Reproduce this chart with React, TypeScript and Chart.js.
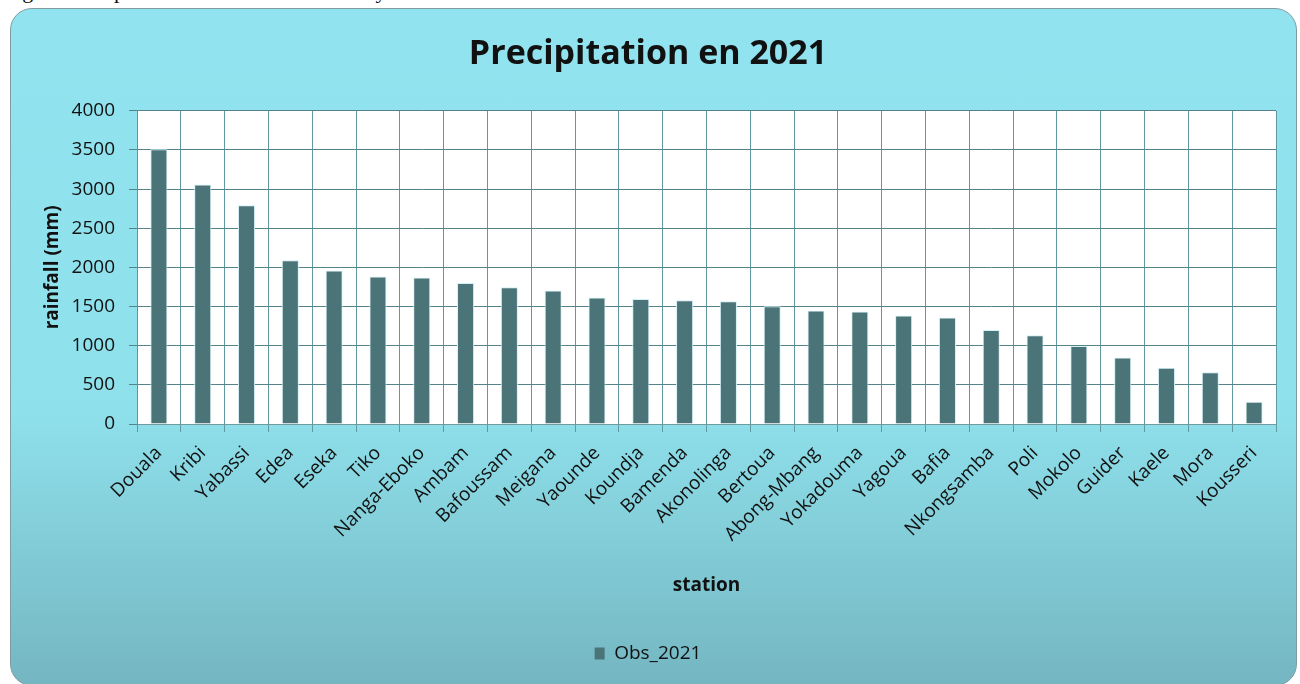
import React, { useEffect, useRef } from "react";
import { Chart, registerables } from "chart.js";

Chart.register(...registerables);

const chartTitle = "Precipitation en 2021";
const seriesLabel = "Obs_2021";
const xAxisTitle = "station";
const yAxisTitle = "rainfall (mm)";
const captionText = "Figure 3: Representation of total rainfall by station in 2021";

const stations = [
  "Douala", "Kribi", "Yabassi", "Edea", "Eseka", "Tiko", "Nanga-Eboko", "Ambam",
  "Bafoussam", "Meigana", "Yaounde", "Koundja", "Bamenda", "Akonolinga", "Bertoua",
  "Abong-Mbang", "Yokadouma", "Yagoua", "Bafia", "Nkongsamba", "Poli", "Mokolo",
  "Guider", "Kaele", "Mora", "Kousseri",
];
const obs2021 = [
  3510, 3060, 2795, 2090, 1960, 1885, 1870, 1800, 1745, 1705, 1615, 1598, 1582,
  1568, 1505, 1450, 1437, 1386, 1360, 1200, 1135, 995, 850, 718, 660, 285,
];
const yMin = 0;
const yMax = 4000;
const yStep = 500;

const BAR_COLOR = "#4b7479";
const FONT = "'Open Sans', 'Noto Sans', sans-serif";

const plotBackground = {
  id: "plotBackground",
  beforeDraw(chart: any) {
    const { ctx, chartArea } = chart;
    if (!chartArea) return;
    ctx.save();
    ctx.fillStyle = "#ffffff";
    ctx.fillRect(chartArea.left, chartArea.top, chartArea.right - chartArea.left, chartArea.bottom - chartArea.top);
    ctx.restore();
  },
};

export default function App() {
  const canvasRef = useRef<HTMLCanvasElement | null>(null);

  useEffect(() => {
    if (!canvasRef.current) return;
    const chart = new Chart(canvasRef.current, {
      type: "bar",
      data: {
        labels: stations,
        datasets: [
          {
            label: seriesLabel,
            data: obs2021,
            backgroundColor: BAR_COLOR,
            borderColor: "#d4f1f5",
            borderWidth: 1,
            barPercentage: 0.39,
            categoryPercentage: 1,
          },
        ],
      },
      options: {
        responsive: false,
        animation: false,
        layout: { padding: { left: 20, right: 24, top: 0, bottom: 11 } },
        plugins: {
          title: {
            display: true,
            text: chartTitle,
            color: "#111111",
            font: { family: FONT, size: 34, weight: "bold" },
            padding: { top: 34, bottom: 36 },
          },
          legend: {
            display: true,
            position: "bottom",
            labels: {
              color: "#111111",
              font: { family: FONT, size: 19 },
              boxWidth: 10,
              boxHeight: 12,
              padding: 10,
              generateLabels(chart: any) {
                return Chart.defaults.plugins.legend.labels
                  .generateLabels(chart)
                  .map((l: any) => ({ ...l, fillStyle: BAR_COLOR, strokeStyle: BAR_COLOR, lineWidth: 0 }));
              },
            },
          },
          tooltip: { enabled: false },
        },
        scales: {
          x: {
            grid: {
              display: true,
              color: "#5f9aa3",
              lineWidth: 1,
              tickLength: 8,
              offset: true,
            },
            border: { display: true, color: "#6f9aa0" },
            ticks: {
              color: "#111111",
              font: { family: FONT, size: 19 },
              minRotation: 45,
              maxRotation: 45,
              autoSkip: false,
              padding: 10,
            },
            title: {
              display: true,
              text: xAxisTitle,
              color: "#111111",
              font: { family: FONT, size: 19, weight: "bold" },
              padding: { top: 0, bottom: 37 },
            },
            afterFit(scale: any) {
              scale.height = 210;
            },
          },
          y: {
            min: yMin,
            max: yMax,
            grid: { color: "#54838a", lineWidth: 1, tickLength: 8 },
            border: { display: true, color: "#6f8f94" },
            ticks: {
              stepSize: yStep,
              color: "#111111",
              font: { family: FONT, size: 19 },
              padding: 14,
              callback: (v: any) => String(v),
            },
            title: {
              display: true,
              text: yAxisTitle,
              color: "#111111",
              font: { family: FONT, size: 19, weight: "bold" },
              padding: { top: 21, bottom: 0 },
            },
            afterFit(scale: any) {
              scale.width = 117;
            },
          },
        },
      },
      plugins: [plotBackground],
    });
    return () => chart.destroy();
  }, []);

  return (
    <div style={{ position: "fixed", left: 0, top: 0, width: 1300, height: 684, background: "#ffffff", overflow: "hidden" }}>
      <div
        style={{
          position: "absolute",
          left: 4,
          top: -22,
          fontFamily: "'Liberation Serif', 'DejaVu Serif', serif",
          fontSize: 22,
          lineHeight: "26px",
          color: "#111",
          whiteSpace: "nowrap",
        }}
      >
        {captionText}
      </div>
      <div
        style={{
          position: "absolute",
          left: 10,
          top: 8,
          width: 1287,
          height: 678,
          boxSizing: "border-box",
          border: "1px solid #7f9ca1",
          borderRadius: 22,
          background: "linear-gradient(to bottom, #91e4ef 0%, #8ee0eb 60%, #80c9d4 82%, #74b6c1 100%)",
        }}
      />
      <canvas
        ref={canvasRef}
        width={1300}
        height={684}
        style={{ position: "absolute", left: 0, top: 0, width: 1300, height: 684, display: "block" }}
      />
    </div>
  );
}
